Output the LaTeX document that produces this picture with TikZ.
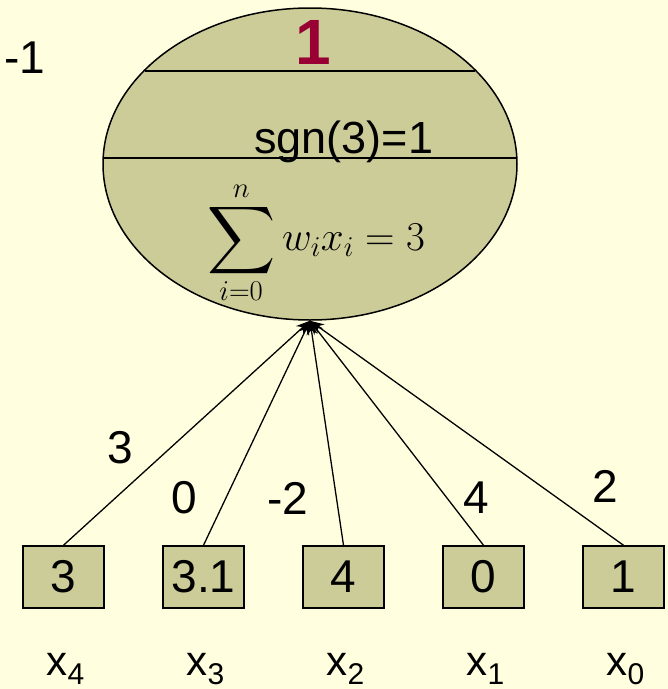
\documentclass[tikz,border=0pt]{standalone}
\usepackage{fix-cm}
\usepackage{amsmath}
\usepackage{fontspec}
\setmainfont{Liberation Sans}
\usetikzlibrary{positioning,arrows.meta,shapes.geometric}
\definecolor{PBack}{HTML}{FFFFE0}
\definecolor{PKhaki}{HTML}{CCCC99}
\definecolor{PRed}{HTML}{990033}
\newcommand{\bigsum}{\mathop{\vcenter{\hbox{\scalebox{1.9}{$\displaystyle\sum$}}}}\limits}
\tikzset{
  neuron/.style={ellipse, draw, line width=1.5pt, fill=PKhaki, minimum width=414pt, minimum height=312pt, inner sep=0pt},
  inbox/.style={draw, line width=1.5pt, fill=PKhaki, minimum width=81pt, minimum height=62pt, inner sep=0pt},
  wlab/.style={inner sep=0pt, font=\fontsize{46}{46}\selectfont},
  xlab/.style={inner sep=0pt, font=\fontsize{42}{42}\selectfont},
  wire/.style={line width=1.3pt, -{Stealth[length=14pt,width=11pt]}}
}
\begin{document}
\begin{tikzpicture}[x=1pt,y=-1pt]
\useasboundingbox (0,0) rectangle (668,689);
\fill[PBack] (0,0) rectangle (668,689);
% the neuron
\node[neuron] (cell) at (310,164) {};
\draw[line width=1.5pt] (145,71) -- (475,71);
\draw[line width=1.5pt] (103.2,158) -- (516.8,158);
\node[inner sep=0pt, text=PRed, font=\fontsize{64}{64}\selectfont\bfseries] (out) at (313,42) {1};
\node[inner sep=0pt, anchor=base west, font=\fontsize{45}{45}\selectfont] (sgn) at (254,153) {sgn(3)=1};
\node[inner sep=0pt, font=\fontsize{41}{41}\selectfont] (sum) at (316,243) {$\displaystyle\bigsum_{i=0}^{n} w_i x_i = 3$};
\node[wlab] (bias) at (25,58) {-1};
% inputs
\foreach \n/\val/\xx in {4/3/63.5, 3/3.1/203.5, 2/4/343.5, 1/0/483.5, 0/1/623.5} {
  \node[inbox, font=\fontsize{46}{46}\selectfont] (in\n) at (\xx,577) {\val};
  \node[xlab, anchor=base] (x\n) at (\xx+2,675) {x\raisebox{-9pt}{\fontsize{30}{30}\selectfont\n}};
  \draw[wire] (in\n.north) -- (cell.south);
}
% weights
\node[wlab] (w4) at (120,448) {3};
\node[wlab] (w3) at (184,498) {0};
\node[wlab] (w2) at (288,498) {-2};
\node[wlab] (w1) at (476,498) {4};
\node[wlab] (w0) at (605,486) {2};
\end{tikzpicture}
\end{document}
